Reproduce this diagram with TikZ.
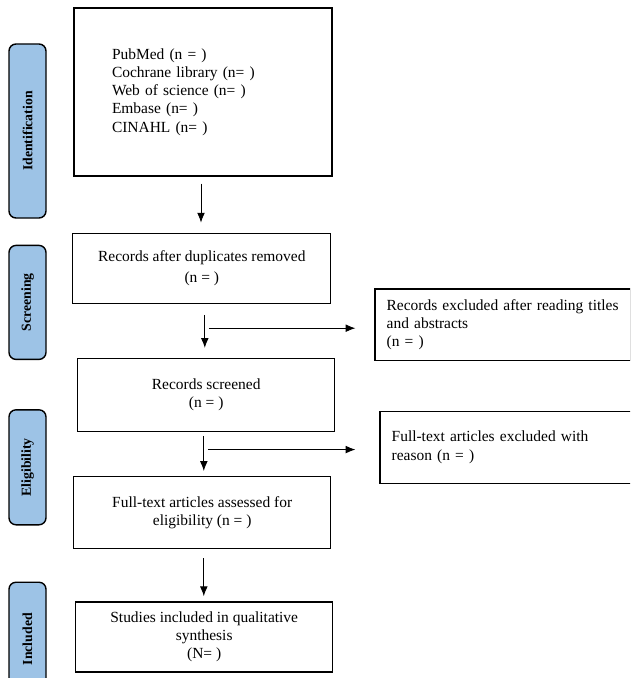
\documentclass[tikz,border=0pt]{standalone}
\usepackage{fontspec}
\setmainfont{Liberation Serif}
\usepackage{tikz}
\usetikzlibrary{arrows.meta,shapes,positioning,calc}
\definecolor{phaseblue}{RGB}{157,195,230}

\begin{document}
\begin{tikzpicture}[
    phase/.style={rectangle,draw,line width=1pt,fill=phaseblue,rounded corners=5pt,minimum width=0.925cm,inner sep=0pt,font=\fontsize{9.8}{11}\selectfont\bfseries},
    stage/.style={rectangle,draw,line width=0.9pt,minimum width=6.43cm,align=center,font=\fontsize{11}{13}\selectfont},
    excl/.style={rectangle,draw,line width=0.9pt,inner xsep=0.29cm,text width=5.8cm,align=left,font=\fontsize{11}{13}\selectfont},
    arrow/.style={line width=0.6pt,-{Latex[length=7pt,width=5.5pt]}}
]
    \useasboundingbox (0,0) rectangle (15.75,-16.95);
    \clip (0,0) rectangle (15.75,-16.95);

    % Phase labels
    \node[phase,minimum height=4.35cm] at (0.6875,-3.275) (lab_id) {\rotatebox{90}{Identification}};
    \node[phase,minimum height=2.85cm,below=0.65cm of lab_id] (lab_scr) {\rotatebox{90}{Screening}};
    \node[phase,minimum height=2.875cm,below=1.225cm of lab_scr] (lab_elig) {\rotatebox{90}{Eligibility}};
    \node[phase,minimum height=2.85cm,below=1.4cm of lab_elig] (lab_incl) {\rotatebox{90}{Included}};

    % Main column
    \node[stage,minimum width=6.45cm,minimum height=4.2cm,inner xsep=0.95cm,text width=4.55cm,align=left] at (5.075,-2.3) (ident)
        {PubMed (n = )\\Cochrane library (n= )\\Web of science (n= )\\Embase (n= )\\CINAHL (n= )};
    \node[stage,minimum width=6.45cm,minimum height=1.75cm,below=1.4cm of ident,xshift=-0.03cm] (dup) {Records after duplicates removed\\[2pt](n = )};
    \node[stage,minimum height=1.82cm,below=1.35cm of dup,xshift=0.11cm] (screen) {Records screened\\(n = )};
    \node[stage,minimum height=1.8cm,below=1.1cm of screen,xshift=-0.1cm] (assess) {Full-text articles assessed for\\eligibility (n = )};
    \node[stage,minimum height=1.75cm,below=1.3cm of assess,xshift=0.05cm] (studies) {Studies included in qualitative\\synthesis\\(N= )};

    % Exclusions
    \node[excl,minimum height=1.78cm,right=1.075cm of dup,yshift=-1.41cm] (excl1) {Records excluded after reading titles\\and abstracts\\(n = )};
    \node[excl,minimum height=1.8cm,right=1.1cm of screen,yshift=-1.31cm] (excl2) {Full-text articles excluded with\\reason (n = )};

    % Arrows
    \draw[arrow,shorten <=0.175cm,shorten >=0.25cm] ([xshift=-0.05cm]ident.south) -- ([xshift=-0.05cm]ident.south |- dup.north);
    \draw[arrow,shorten <=0.275cm,shorten >=0.25cm] ([xshift=0.075cm]dup.south) -- ([xshift=0.075cm]dup.south |- screen.north);
    \draw[arrow,shorten <=0.1cm,shorten >=0.125cm] ([xshift=-0.06cm]screen.south) -- ([xshift=-0.06cm]screen.south |- assess.north);
    \draw[arrow,shorten <=0.225cm,shorten >=0.125cm] ([xshift=0.04cm]assess.south) -- ([xshift=0.04cm]assess.south |- studies.north);

    \coordinate (j1) at ($([xshift=0.175cm]dup.south)!0.45!([xshift=0.175cm]dup.south |- screen.north)$);
    \coordinate (j2) at ($([xshift=0.04cm]screen.south)!0.4!([xshift=0.04cm]screen.south |- assess.north)$);
    \draw[arrow,shorten >=0.475cm] (j1) -- (j1 -| excl1.west);
    \draw[arrow,shorten >=0.6cm] (j2) -- (j2 -| excl2.west);
\end{tikzpicture}
\end{document}
